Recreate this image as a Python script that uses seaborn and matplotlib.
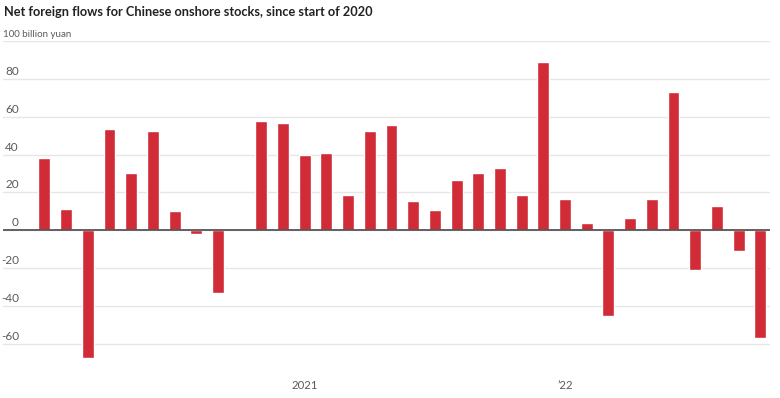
import matplotlib
matplotlib.use("Agg")
import matplotlib.pyplot as plt
import matplotlib.transforms as mtransforms
import pandas as pd
import seaborn as sns

# monthly net northbound flows, 100 billion yuan
months = pd.date_range("2020-01-01", "2022-10-01", freq="MS").strftime("%Y-%m").tolist()
flows = [38.3, 11.3, -67.7, 53.4, 30.2, 52.5, 10.4, -1.8, -33.0, 0.0, 58.0, 56.9,
         40.0, 40.9, 18.5, 52.4, 55.5, 15.3, 10.7, 26.8, 30.5, 32.8, 18.5, 89.0,
         16.7, 4.0, -45.3, 6.3, 16.7, 73.0, -21.2, 12.7, -10.9, -57.0]
y_ticks = [-60, -40, -20, 0, 20, 40, 60, 80, 100]
x_tick_months = ["2021-01", "2022-01"]
x_tick_labels = ["2021", "\u201922"]

title = "Net foreign flows for Chinese onshore stocks, since start of 2020"
unit_label = "100 billion yuan"

RED = "#d12b38"
GRID = "#e6e6e6"
TEXT = "#5a5a5a"

sns.set_style("white")
plt.rcParams["font.family"] = ["Lato", "DejaVu Sans"]

df = pd.DataFrame({"month": months, "flow": flows})

W, H = 780, 398
fig = plt.figure(figsize=(W / 100, H / 100), dpi=100)
ax_left, ax_right, ax_top, ax_bottom = 3, 770, 41.3, 372
ax = fig.add_axes([ax_left / W, 1 - ax_bottom / H,
                   (ax_right - ax_left) / W, (ax_bottom - ax_top) / H])

sns.barplot(data=df, x="month", y="flow", order=months, color=RED,
            saturation=1, width=0.55, ax=ax)

ax.set_xlim(-1.91, 33.45)
ax.set_ylim(-75, 100)

ax.set_yticks(y_ticks)
ax.yaxis.grid(True, color=GRID, lw=1)
ax.set_axisbelow(True)
ax.tick_params(axis="y", length=0, labelleft=False)
ax.axhline(0, color="#555555", lw=1.3, zorder=3)

ax.set_xticks([months.index(m) for m in x_tick_months])
ax.set_xticklabels(x_tick_labels)
ax.tick_params(axis="x", length=3, width=0.8, color="#999999", pad=3,
               labelsize=8.2, labelcolor=TEXT)
ax.set_xlabel("")
ax.set_ylabel("")
for s in ax.spines.values():
    s.set_visible(False)

# y labels sit just above their gridline
trans = mtransforms.offset_copy(ax.get_yaxis_transform(), fig=fig, y=2, units="dots")
label_x = (19 - ax_left) / (ax_right - ax_left)
for v in y_ticks[:-1]:
    ax.text(label_x, v, f"{v}", transform=trans, ha="right", va="bottom",
            fontsize=8.5, color=TEXT)
ax.text(0, y_ticks[-1], unit_label, transform=trans, ha="left", va="bottom",
        fontsize=7, color=TEXT)

fig.text(4 / W, 1 - 12 / H, title, fontsize=9.2, fontweight="bold",
         color="#222222", va="center", ha="left")

fig.savefig("out.png", dpi=100)
